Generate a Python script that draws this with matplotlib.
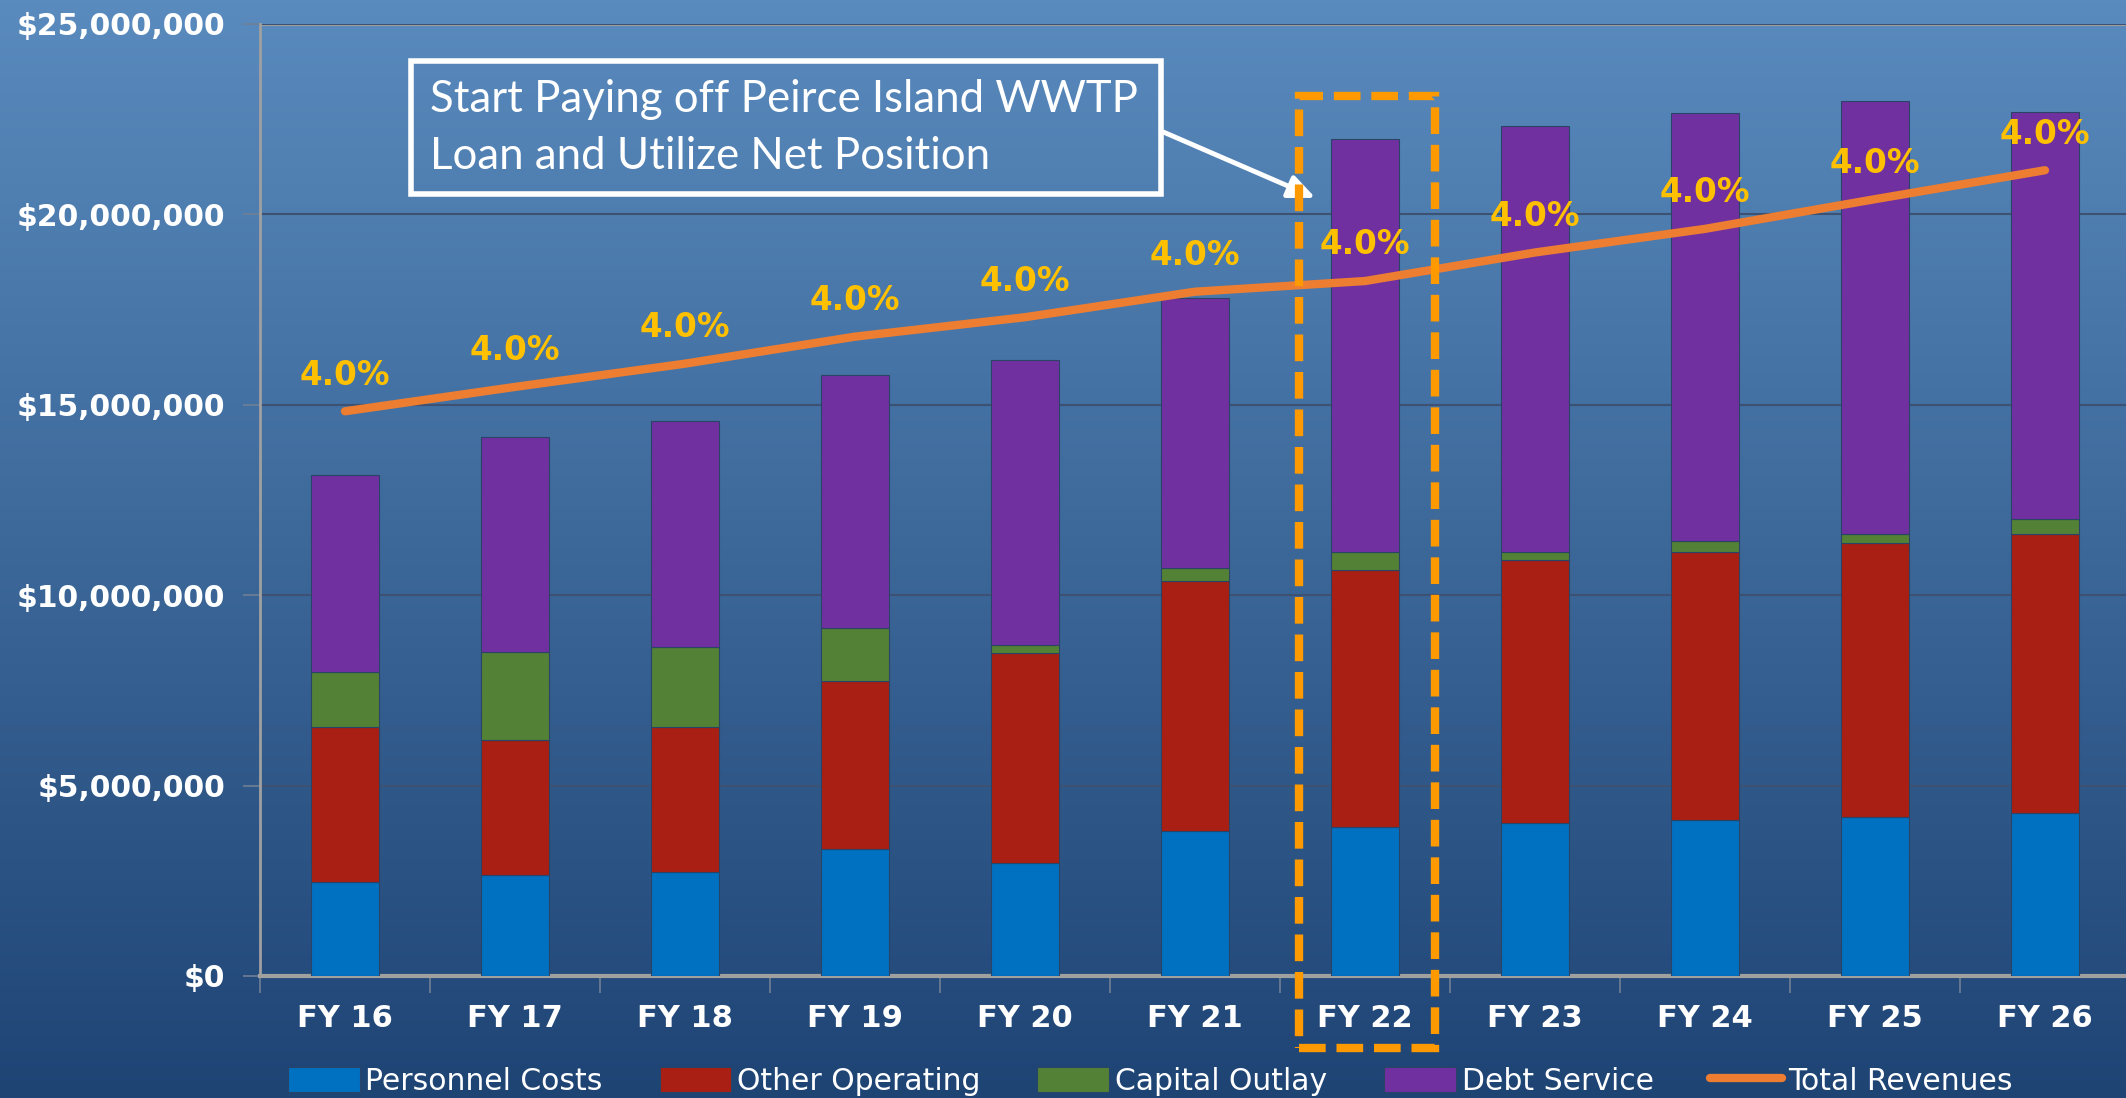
import numpy as np
import matplotlib.pyplot as plt
from matplotlib.patches import Rectangle
from matplotlib.ticker import FuncFormatter, FixedLocator

# datos
years = ['FY 16', 'FY 17', 'FY 18', 'FY 19', 'FY 20', 'FY 21',
         'FY 22', 'FY 23', 'FY 24', 'FY 25', 'FY 26']
personnel = [2.47, 2.64, 2.74, 3.34, 2.96, 3.81, 3.92, 4.02, 4.10, 4.17, 4.27]
other_op = [4.06, 3.55, 3.79, 4.40, 5.52, 6.55, 6.73, 6.91, 7.03, 7.20, 7.34]
capital = [1.45, 2.31, 2.11, 1.39, 0.21, 0.36, 0.48, 0.21, 0.30, 0.25, 0.39]
debt = [5.18, 5.66, 5.94, 6.65, 7.48, 7.09, 10.84, 11.19, 11.22, 11.35, 10.69]
revenues = [14.83, 15.47, 16.08, 16.79, 17.30, 17.97, 18.25, 19.00, 19.62, 20.40, 21.16]
growth = ['4.0%'] * 11

M = 1e6
personnel = np.array(personnel) * M
other_op = np.array(other_op) * M
capital = np.array(capital) * M
debt = np.array(debt) * M
revenues = np.array(revenues) * M

fig = plt.figure(figsize=(21.26, 10.98), dpi=100)

# fondo degradado
bg = fig.add_axes([0, 0, 1, 1], zorder=-10)
grad = np.linspace(0, 1, 256).reshape(-1, 1)
top = np.array([90, 139, 190]) / 255
bot = np.array([30, 68, 116]) / 255
img = top + (bot - top) * grad[:, :, None]
bg.imshow(img, aspect='auto', extent=[0, 1, 0, 1])
bg.set_axis_off()

ax = fig.add_axes([260 / 2126, 1 - 976 / 1098, 1870 / 2126, (976 - 24) / 1098])
ax.patch.set_alpha(0)

x = np.arange(len(years))
w = 0.4
ec = '#2a4468'
h1 = ax.bar(x, personnel, w, color='#0070C0', edgecolor=ec, linewidth=0.8, label='Personnel Costs', zorder=3)
b1 = personnel
h2 = ax.bar(x, other_op, w, bottom=b1, color='#AA1F13', edgecolor=ec, linewidth=0.8, label='Other Operating', zorder=3)
b2 = b1 + other_op
h3 = ax.bar(x, capital, w, bottom=b2, color='#538135', edgecolor=ec, linewidth=0.8, label='Capital Outlay', zorder=3)
b3 = b2 + capital
h4 = ax.bar(x, debt, w, bottom=b3, color='#7030A0', edgecolor=ec, linewidth=0.8, label='Debt Service', zorder=3)
h5, = ax.plot(x, revenues, color='#ED7D31', linewidth=6, solid_capstyle='round', label='Total Revenues', zorder=4)

for xi, yi, t in zip(x, revenues, growth):
    ax.annotate(t, (xi, yi), xytext=(0, 26), textcoords='offset points', ha='center', va='center',
                color='#FFC000', fontsize=23.5, fontweight='bold', zorder=5)

ax.set_xlim(-0.5, 10.5)
ax.set_ylim(0, 25 * M)
ax.yaxis.set_major_locator(FixedLocator(np.arange(0, 26, 5) * M))
ax.yaxis.set_major_formatter(FuncFormatter(lambda v, p: f'${v:,.0f}'))
ax.grid(axis='y', color='#3d5272', linewidth=1.5, zorder=0)
ax.axhline(25 * M, color='#a0a0a0', linewidth=3, zorder=1)

ax.set_xticks(x)
ax.set_xticklabels(years)
ax.set_xticks(np.arange(-0.5, 10.6, 1), minor=True)
ax.tick_params(axis='x', which='major', length=0, pad=20, labelsize=22, labelcolor='white')
ax.tick_params(axis='x', which='minor', length=12, width=1.2, color='#6f7f95', direction='out')
ax.tick_params(axis='y', length=12, width=1.2, color='#6f7f95', pad=13, labelsize=21.5, labelcolor='white')
for lab in ax.get_xticklabels() + ax.get_yticklabels():
    lab.set_fontweight('bold')

for s in ['top', 'right']:
    ax.spines[s].set_visible(False)
ax.spines['left'].set_color('#a0a0a0')
ax.spines['left'].set_linewidth(2)
ax.spines['bottom'].set_color('#a0a0a0')
ax.spines['bottom'].set_linewidth(3)

# recuadro FY 22
ax.add_patch(Rectangle((5.61, -1.88 * M), 0.80, 25.0 * M, fill=False, edgecolor='#FF9900',
                       linewidth=6, linestyle=(0, (3.2, 1.3)), clip_on=False, zorder=6))

# nota con flecha
ax.annotate('', xy=(1318 / 2126, 1 - 199 / 1098), xycoords='figure fraction',
            xytext=(1161 / 2126, 1 - 131 / 1098), textcoords='figure fraction',
            arrowprops=dict(arrowstyle='-|>,head_length=1.6,head_width=0.7', color='white', lw=3.5))
fig.text(430 / 2126, 1 - 128 / 1098, 'Start Paying off Peirce Island WWTP\nLoan and Utilize Net Position',
         color='white', fontsize=31.5, family='Lato', va='center', ha='left', linespacing=1.5)
fig.patches.append(Rectangle((411 / 2126, 1 - 194 / 1098), 750 / 2126, 133 / 1098, fill=False,
                             edgecolor='white', linewidth=4, transform=fig.transFigure, figure=fig))

leg = fig.legend([h1, h2, h3, h4, h5],
                 ['Personnel Costs', 'Other Operating', 'Capital Outlay', 'Debt Service', 'Total Revenues'],
                 loc='center', bbox_to_anchor=(0.541, 1 - 1081 / 1098), ncol=5, frameon=False,
                 fontsize=21.5, labelcolor='white', handlelength=2.4, handleheight=0.9,
                 columnspacing=1.9, handletextpad=0.2)

fig.savefig('out.png', dpi=100)
